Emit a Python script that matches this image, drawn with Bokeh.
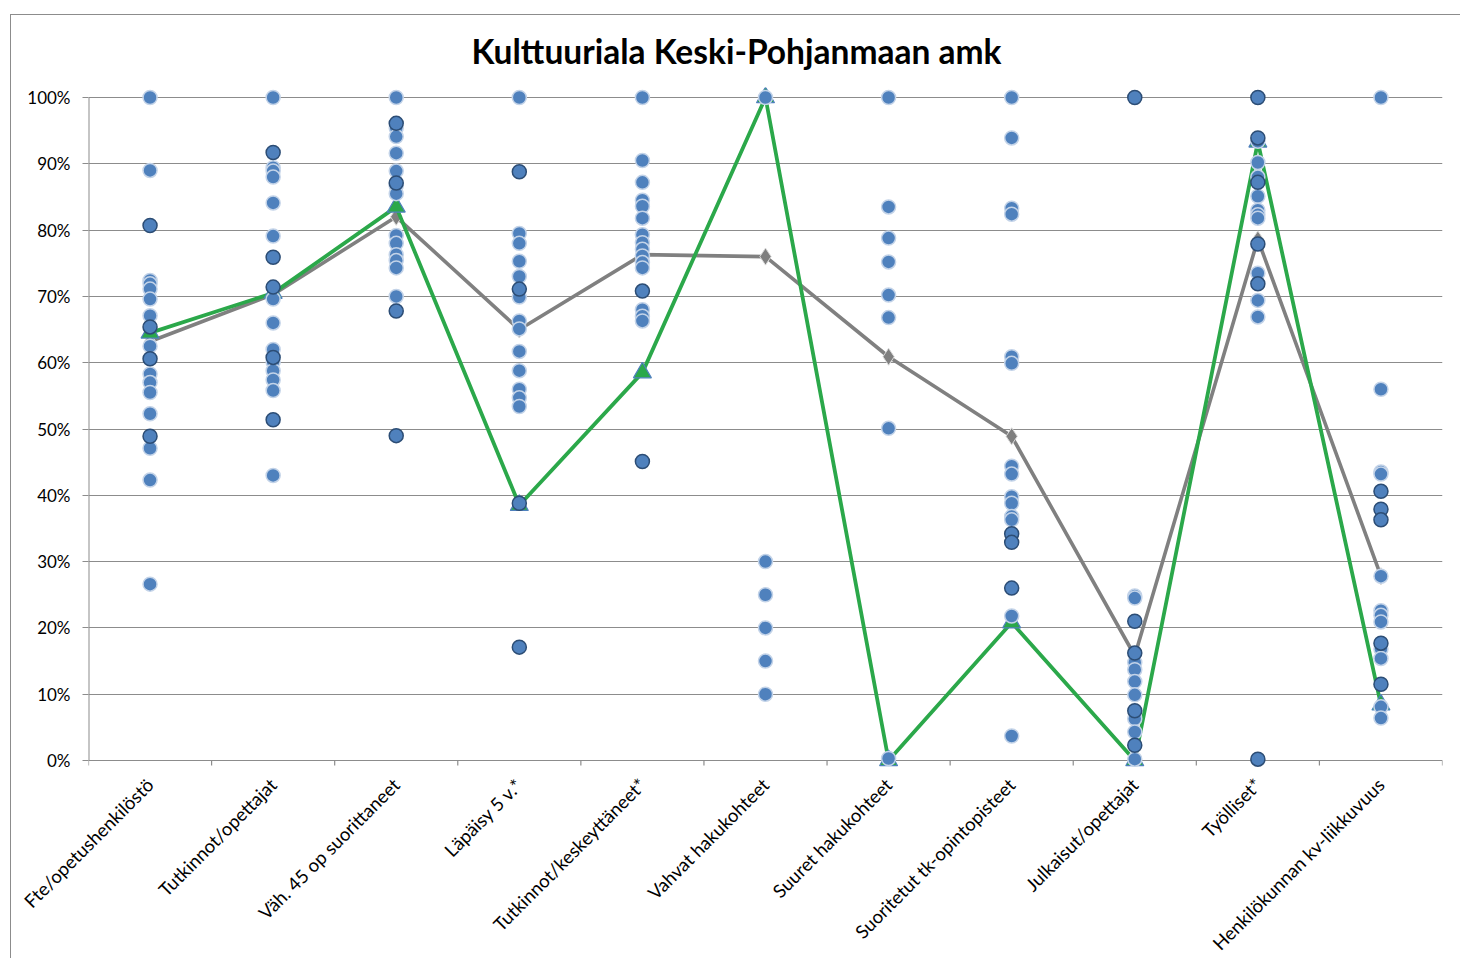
import math
from bokeh.plotting import figure
from bokeh.models import (Range1d, FixedTicker, NumeralTickFormatter, ColumnDataSource, Title)
from bokeh.core.properties import value
from bokeh.embed import file_html
from bokeh.resources import INLINE

# ---------------- data ----------------
title_text = "Kulttuuriala Keski-Pohjanmaan amk"

categories = [
    "Fte/opetushenkilöstö",
    "Tutkinnot/opettajat",
    "Väh. 45 op suorittaneet",
    "Läpäisy 5 v.*",
    "Tutkinnot/keskeyttäneet*",
    "Vahvat hakukohteet",
    "Suuret hakukohteet",
    "Suoritetut tk-opintopisteet",
    "Julkaisut/opettajat",
    "Työlliset*",
    "Henkilökunnan kv-liikkuvuus",
]

y_ticks = [0.0, 0.1, 0.2, 0.3, 0.4, 0.5, 0.6, 0.7, 0.8, 0.9, 1.0]

# series lines (percent)
green_values = [64.5, 70.5, 83.5, 38.5, 58.5, 100.0, 0.0, 20.8, 0.0, 93.3, 8.4]
gray_values = [63.2, 70.3, 82.0, 65.0, 76.3, 76.0, 60.9, 48.9, 15.8, 78.6, 27.8]

# individual points (percent), light-edged and dark-edged markers
fte_light = [100, 89.0, 72.4, 71.9, 71.1, 69.6, 67.1, 62.5, 58.3, 57.0, 55.5, 52.3, 47.1, 42.3, 26.6]
fte_dark = [80.7, 65.4, 60.6, 48.9]
tutk_light = [100, 89.4, 88.9, 88.0, 84.1, 79.1, 69.6, 66.0, 62.0, 60.1, 58.8, 57.4, 55.8, 43.0]
tutk_dark = [91.7, 75.9, 71.4, 60.8, 51.4]
vah45_light = [100, 95.4, 94.1, 91.6, 88.9, 86.7, 85.5, 79.2, 78.0, 76.3, 75.4, 74.3, 70.0]
vah45_dark = [96.1, 87.1, 67.8, 49.0]
lapaisy_light = [100, 79.5, 78.0, 75.3, 73.0, 69.9, 66.3, 65.1, 61.7, 58.8, 56.0, 54.7, 53.4]
lapaisy_dark = [88.8, 71.1, 38.8, 17.1]
keskeyt_light = [100, 90.5, 87.2, 84.5, 83.6, 81.8, 79.3, 78.1, 77.1, 76.1, 75.1, 74.3, 68.0, 67.0, 66.3]
keskeyt_dark = [70.8, 45.1]
vahvat_light = [100, 30, 25, 20, 15, 10]
vahvat_dark = []
suuret_light = [100, 83.5, 78.8, 75.2, 70.2, 66.8, 50.1, 0.3]
suuret_dark = []
tk_light = [100, 93.9, 83.3, 82.4, 60.9, 59.9, 44.4, 43.2, 39.8, 38.8, 36.8, 36.3, 21.8, 3.7]
tk_dark = [34.2, 32.9, 26.0]
julk_light = [24.8, 24.5, 14.8, 13.7, 11.9, 9.9, 6.3, 4.3, 0.2]
julk_dark = [100, 21.0, 16.2, 7.5, 2.3]
tyoll_light = [93.4, 90.2, 88.0, 85.1, 83.0, 82.3, 81.8, 73.5, 69.4, 66.9]
tyoll_dark = [100, 93.9, 87.2, 77.9, 71.9, 0.2]
kv_light = [100, 56.0, 43.5, 43.2, 27.8, 22.6, 21.9, 20.9, 16.8, 15.4, 8.1, 6.4]
kv_dark = [40.6, 37.9, 36.3, 17.7, 11.5]

light_groups = [fte_light, tutk_light, vah45_light, lapaisy_light, keskeyt_light, vahvat_light,
                suuret_light, tk_light, julk_light, tyoll_light, kv_light]
dark_groups = [fte_dark, tutk_dark, vah45_dark, lapaisy_dark, keskeyt_dark, vahvat_dark,
               suuret_dark, tk_dark, julk_dark, tyoll_dark, kv_dark]

# ---------------- layout / styling ----------------
FONT = "Lato"
BLUE = "#4F81BD"
GREEN = "#2BA84A"
GRAY = "#808080"
GRID = "#8C8C8C"

W = 1452
LEFT, RIGHT, TOP = 88, 10, 87
PLOT_PX = 663          # pixels from 0% to 100%
PAD_PX = 10            # room above 100% / below 0% so markers are not cut
H1 = TOP + PLOT_PX + 2 * PAD_PX
H2 = 958 - H1
TICK_PX = 5
LABEL_DROP_PX = 11

n = len(categories)
centers = [i + 0.5 for i in range(n)]
bounds = list(range(n + 1))
pad = PAD_PX / PLOT_PX
px_per_cat = (W - LEFT - RIGHT) / n

BORDER_CSS = ("content: ''; position: absolute; pointer-events: none; z-index: 10; "
              "border-left: 1px solid #8C8C8C;")

# ---------- main plot ----------
p = figure(width=W, height=H1, output_backend="svg", toolbar_location=None,
           x_range=Range1d(0, n), y_range=Range1d(-pad, 1 + pad),
           x_axis_location=None,
           min_border_left=LEFT, min_border_right=RIGHT, min_border_top=TOP, min_border_bottom=0)
p.background_fill_color = "white"
p.border_fill_color = "white"
p.outline_line_color = None
p.stylesheets = [":host::before { " + BORDER_CSS +
                 " left: 10px; top: 14px; right: -100px; bottom: 0px; "
                 "border-top: 1px solid #8C8C8C; }"]

p.title = Title(text=title_text, align="left", text_font=FONT, text_font_size="33.5px",
                text_font_style="bold", text_color="black", offset=383, standoff=34)

p.yaxis.ticker = FixedTicker(ticks=y_ticks)
p.yaxis.formatter = NumeralTickFormatter(format="0%")
p.yaxis.axis_line_color = None
p.yaxis.major_tick_in = 0
p.yaxis.major_tick_out = 6
p.yaxis.major_tick_line_color = GRID
p.yaxis.minor_tick_line_color = None
p.yaxis.major_label_text_font = FONT
p.yaxis.major_label_text_font_size = "17px"
p.yaxis.major_label_text_color = "black"
p.yaxis.major_label_standoff = 12

for g in p.grid:
    if g.dimension == 0:
        g.visible = False
    else:
        g.ticker = FixedTicker(ticks=y_ticks)
        g.grid_line_color = GRID
        g.grid_line_width = 1

# value axis line and category-boundary tick marks
p.segment(x0=[0], y0=[y_ticks[0]], x1=[0], y1=[y_ticks[-1]], line_color=GRID, line_width=2)
p.segment(x0=bounds, y0=[y_ticks[0]] * (n + 1), x1=bounds,
          y1=[y_ticks[0] - TICK_PX / PLOT_PX] * (n + 1), line_color=GRID, line_width=1.2)

# gray average line
gray_src = ColumnDataSource(dict(x=centers, y=[v / 100 for v in gray_values]))
p.line("x", "y", source=gray_src, line_color=GRAY, line_width=3.6)
p.scatter("x", "y", source=gray_src, marker="diamond", size=17, fill_color="#7F7F7F",
          line_color="#D9D9D9", line_width=1)

# green line
green_src = ColumnDataSource(dict(x=centers, y=[v / 100 for v in green_values]))
p.line("x", "y", source=green_src, line_color=GREEN, line_width=3.8)
p.scatter("x", "y", source=green_src, marker="triangle", size=18, fill_color=GREEN,
          line_color=BLUE, line_width=1.2)

# points
def points(groups):
    xs, ys = [], []
    for c, g in zip(centers, groups):
        for v in g:
            xs.append(c)
            ys.append(v / 100)
    return ColumnDataSource(dict(x=xs, y=ys))

p.scatter("x", "y", source=points(light_groups), marker="circle", size=14,
          fill_color=BLUE, line_color="#C3D3E8", line_width=1.5)
p.scatter("x", "y", source=points(dark_groups), marker="circle", size=14,
          fill_color=BLUE, line_color="#2C4D75", line_width=1.5)

# ---------- category label strip (same x scale as the main plot, full-width frame) ----------
q = figure(width=W, height=H2, output_backend="svg", toolbar_location=None,
           x_range=Range1d(-LEFT / px_per_cat, n + RIGHT / px_per_cat),
           y_range=Range1d(-H2, 0),
           x_axis_location=None, y_axis_location=None,
           min_border_left=0, min_border_right=0, min_border_top=0, min_border_bottom=0)
q.background_fill_color = "white"
q.border_fill_color = "white"
q.outline_line_color = None
q.grid.visible = False
q.stylesheets = [":host::before { " + BORDER_CSS + " left: 10px; top: 0px; bottom: 0px; }"]

q.text(x=centers, y=[-LABEL_DROP_PX] * n, text=categories, angle=math.pi / 4,
       text_align="right", text_baseline="middle", text_font=value(FONT),
       text_font_size="18.5px", text_color="black")

open("out.html", "w").write(file_html([p, q], INLINE))
